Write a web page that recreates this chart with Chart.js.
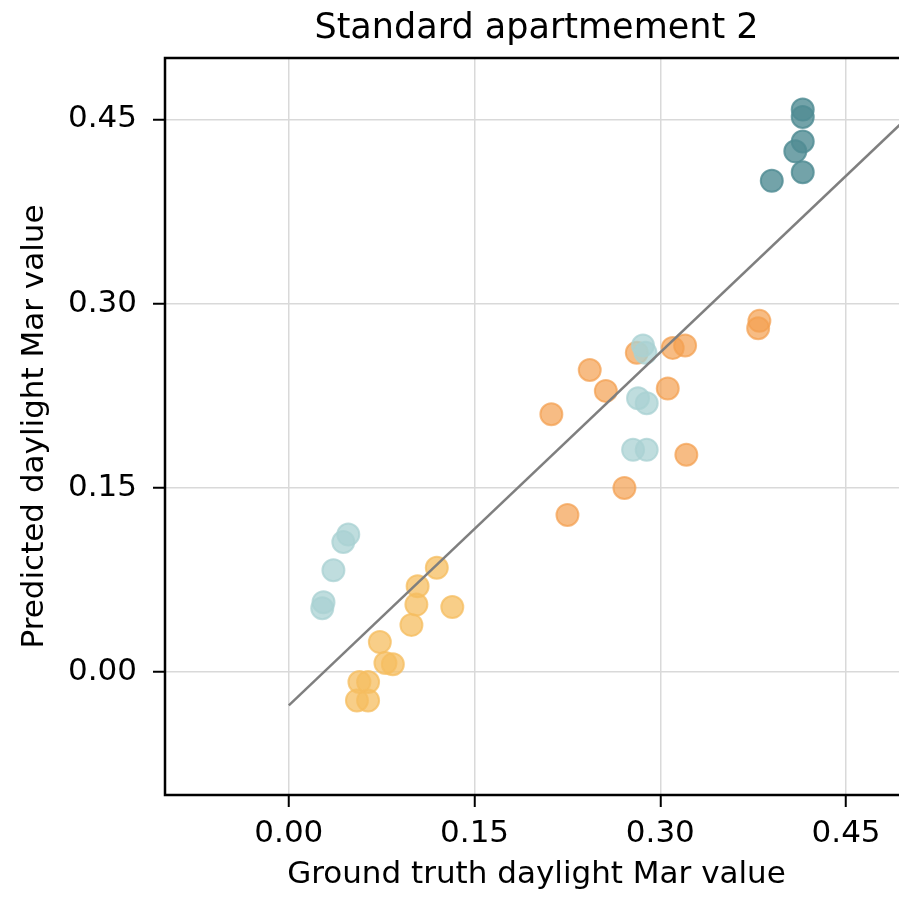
<!DOCTYPE html>
<html>
<head>
<meta charset="utf-8">
<script src="https://cdn.jsdelivr.net/npm/chart.js@4.4.1/dist/chart.umd.min.js"></script>
<style>
  html, body { margin: 0; padding: 0; background: #fff; overflow: hidden; }
  canvas { display: block; }
</style>
</head>
<body>
<canvas id="chart" width="921" height="899"></canvas>
<script>
const xTicks = [0, 0.15, 0.30, 0.45];
const yTicks = [0, 0.15, 0.30, 0.45];

// dark teal points
const tealX = [0.415, 0.415, 0.415, 0.409, 0.415, 0.390];
const tealY = [0.458, 0.452, 0.432, 0.424, 0.407, 0.400];

// light blue points
const blueX = [0.048, 0.044, 0.036, 0.028, 0.027, 0.286, 0.288, 0.282, 0.289, 0.278, 0.289];
const blueY = [0.112, 0.106, 0.083, 0.057, 0.052, 0.266, 0.260, 0.223, 0.219, 0.181, 0.181];

// orange points
const orangeX = [0.212, 0.243, 0.256, 0.281, 0.310, 0.320, 0.306, 0.321, 0.271, 0.225, 0.380, 0.379];
const orangeY = [0.210, 0.246, 0.229, 0.260, 0.264, 0.266, 0.231, 0.177, 0.150, 0.128, 0.286, 0.280];

// yellow points
const yellowX = [0.1195, 0.104, 0.103, 0.132, 0.099, 0.0735, 0.078, 0.084, 0.057, 0.064, 0.055, 0.064];
const yellowY = [0.085, 0.070, 0.055, 0.053, 0.0385, 0.0245, 0.0075, 0.0065, -0.008, -0.008, -0.023, -0.023];

// fitted line
const fitX = [0, 0.5];
const fitY = [-0.027, 0.452];

const zip = (xs, ys) => xs.map((x, i) => ({ x: x, y: ys[i] }));

function pointSet(data, color, order) {
    return {
        type: 'scatter',
        data: data,
        backgroundColor: color,
        borderColor: color,
        borderWidth: 2,
        pointRadius: 11,
        pointHoverRadius: 11,
        order: order
    };
}

// black box round the plot area
const frame = {
    id: 'frame',
    afterDatasetsDraw(chart) {
        const a = chart.chartArea;
        const ctx = chart.ctx;
        ctx.save();
        ctx.strokeStyle = '#000';
        ctx.lineWidth = 2.5;
        ctx.strokeRect(a.left, a.top, a.right - a.left, a.bottom - a.top);
        ctx.restore();
    }
};

const font = 'DejaVu Sans';

new Chart(document.getElementById('chart'), {
    data: {
        datasets: [
            {
                type: 'line',
                data: zip(fitX, fitY),
                borderColor: '#7f7f7f',
                borderWidth: 2.5,
                pointRadius: 0,
                fill: false,
                order: 0
            },
            pointSet(zip(tealX, tealY), 'rgba(80, 140, 148, 0.8)', 1),
            pointSet(zip(blueX, blueY), 'rgba(169, 209, 211, 0.75)', 2),
            pointSet(zip(orangeX, orangeY), 'rgba(244, 160, 80, 0.7)', 3),
            pointSet(zip(yellowX, yellowY), 'rgba(245, 189, 96, 0.75)', 4)
        ]
    },
    options: {
        responsive: false,
        animation: false,
        devicePixelRatio: 1,
        layout: { padding: { left: 0, right: 4, top: 0, bottom: 0 } },
        plugins: {
            legend: { display: false },
            tooltip: { enabled: false },
            title: {
                display: true,
                text: 'Standard apartmement 2',
                fullSize: false,
                color: '#000',
                font: { family: font, size: 35, weight: 'normal' },
                padding: { top: 8, bottom: 8 }
            }
        },
        scales: {
            x: {
                type: 'linear',
                min: -0.1,
                max: 0.5,
                afterBuildTicks: axis => { axis.ticks = xTicks.map(v => ({ value: v })); },
                afterFit: scale => { scale.height = 104; },
                ticks: {
                    color: '#000',
                    font: { family: font, size: 31 },
                    padding: 8,
                    callback: v => v.toFixed(2)
                },
                grid: { color: '#d9d9d9', lineWidth: 1.5, tickColor: '#000', tickLength: 12, tickWidth: 2 },
                border: { display: false },
                title: {
                    display: true,
                    text: 'Ground truth daylight Mar value',
                    color: '#000',
                    font: { family: font, size: 31 },
                    padding: { top: 0, bottom: 5 }
                }
            },
            y: {
                type: 'linear',
                min: -0.1,
                max: 0.5,
                afterBuildTicks: axis => { axis.ticks = yTicks.map(v => ({ value: v })); },
                afterFit: scale => { scale.width = 165; },
                ticks: {
                    color: '#000',
                    font: { family: font, size: 31 },
                    padding: 16,
                    callback: v => v.toFixed(2)
                },
                grid: { color: '#d9d9d9', lineWidth: 1.5, tickColor: '#000', tickLength: 12, tickWidth: 2 },
                border: { display: false },
                title: {
                    display: true,
                    text: 'Predicted daylight Mar value',
                    color: '#000',
                    font: { family: font, size: 31 },
                    padding: { top: 16, bottom: 0 }
                }
            }
        }
    },
    plugins: [frame]
});
</script>
</body>
</html>
